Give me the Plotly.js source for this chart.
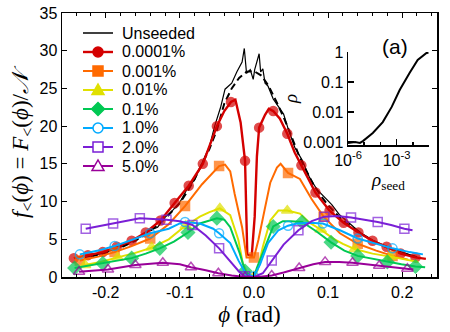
<!DOCTYPE html>
<html lang="en">

<head>
    <meta charset="UTF-8">
    <title>Seeded distributions</title>
    <script src="https://cdn.plot.ly/plotly-3.0.1.min.js" charset="utf-8"></script>
    <style>
        body { margin: 0; }
    </style>
</head>

<body>
    <div id="plot" style="width: 450px; height: 332px;"></div>

    <script>
        // f<(phi) curves, one set per seed density
        const unseededPhi = [-0.228, -0.21, -0.19, -0.17, -0.15, -0.14, -0.13, -0.12, -0.11, -0.1, -0.09, -0.08, -0.07, -0.06, -0.053, -0.045, -0.039, -0.03, -0.023, -0.016, -0.013, -0.01, -0.005, -0.001, 0.001, 0.007, 0.009, 0.012, 0.015, 0.019, 0.026, 0.033, 0.04, 0.046, 0.055, 0.065, 0.075, 0.085, 0.095, 0.105, 0.115, 0.125, 0.135, 0.145, 0.16, 0.175, 0.19, 0.205, 0.22];
        const unseededF = [2.6, 3.0, 3.6, 4.4, 5.5, 6.2, 6.6, 7.9, 8.8, 9.9, 11.7, 12.9, 15.1, 17.3, 20.0, 22.5, 24.9, 25.7, 27.2, 28.5, 30.3, 27.0, 27.5, 26.2, 27.5, 29.6, 27.2, 27.6, 25.7, 25.3, 23.6, 22.6, 21.6, 19.7, 17.2, 15.5, 13.2, 11.6, 10.6, 9.6, 8.3, 7.4, 6.6, 5.8, 4.9, 4.2, 3.6, 3.1, 2.7];

        const smoothPhi = [-0.22, -0.2, -0.18, -0.16, -0.14, -0.12, -0.1, -0.09, -0.08, -0.07, -0.06, -0.05, -0.04, -0.03, -0.02, -0.01, 0.0, 0.01, 0.02, 0.03, 0.04, 0.05, 0.06, 0.07, 0.08, 0.09, 0.1, 0.12, 0.14, 0.16, 0.18, 0.2, 0.22];
        const smoothF = [2.7, 3.2, 3.9, 4.8, 6.1, 7.7, 9.8, 11.3, 13.0, 15.0, 17.0, 19.5, 23.0, 25.0, 26.4, 27.2, 27.3, 26.7, 25.3, 23.3, 21.2, 18.8, 16.3, 14.2, 12.3, 10.8, 9.5, 7.5, 6.0, 4.8, 3.9, 3.2, 2.6];

        const p0001Phi = [-0.243, -0.224, -0.204, -0.185, -0.165, -0.146, -0.126, -0.107, -0.088, -0.069, -0.05, -0.04, -0.031, -0.025, -0.018, -0.012, -0.009, -0.003, 0.001, 0.004, 0.007, 0.015, 0.02, 0.026, 0.035, 0.045, 0.055, 0.064, 0.083, 0.102, 0.121, 0.141, 0.16, 0.179, 0.198, 0.218, 0.232];
        const p0001F = [2.5, 2.9, 3.3, 4.0, 4.8, 5.9, 7.5, 9.8, 12.1, 15.0, 20.0, 22.0, 23.2, 23.5, 20.5, 15.4, 3.0, 2.8, 8.0, 16.0, 19.8, 21.5, 22.3, 22.0, 21.0, 19.0, 16.5, 14.8, 11.2, 8.8, 7.2, 5.9, 4.8, 4.0, 3.1, 2.6, 2.4];
        const p0001Marks = [0, 1, 2, 3, 4, 5, 6, 7, 8, 9, 10, 12, 15, 20, 23, 25, 27, 28, 29, 30, 31, 32, 33, 34, 35];

        const p001Phi = [-0.235, -0.21, -0.188, -0.165, -0.14, -0.115, -0.093, -0.07, -0.047, -0.039, -0.032, -0.026, -0.016, -0.01, 0.0, 0.006, 0.015, 0.022, 0.031, 0.036, 0.046, 0.062, 0.078, 0.094, 0.116, 0.14, 0.165, 0.187, 0.208];
        const p001F = [2.2, 2.7, 3.3, 4.1, 5.1, 7.0, 9.4, 12.3, 14.7, 14.9, 14.0, 11.0, 6.6, 2.6, 2.6, 4.9, 9.2, 12.5, 14.5, 15.0, 13.8, 13.0, 10.3, 8.0, 5.8, 4.4, 3.5, 2.8, 2.3];
        const p001Marks = [0, 2, 4, 6, 8, 14, 20, 23, 25, 27];

        const p01Phi = [-0.228, -0.207, -0.184, -0.16, -0.138, -0.115, -0.1, -0.092, -0.073, -0.06, -0.046, -0.032, -0.021, -0.015, -0.008, 0.0, 0.005, 0.012, 0.022, 0.033, 0.045, 0.062, 0.075, 0.09, 0.107, 0.12, 0.136, 0.16, 0.184, 0.205, 0.222];
        const p01F = [1.6, 2.0, 2.6, 3.2, 3.9, 5.0, 6.2, 6.8, 8.0, 8.6, 9.1, 8.2, 4.9, 1.8, 0.3, 0.1, 0.9, 4.0, 7.5, 8.8, 8.8, 8.4, 7.2, 6.3, 5.1, 4.4, 3.7, 3.1, 2.7, 2.3, 2.0];
        const p01Marks = [0, 2, 4, 7, 10, 15, 20, 23, 26, 28];

        const p1Phi = [-0.242, -0.223, -0.204, -0.185, -0.165, -0.146, -0.127, -0.108, -0.089, -0.073, -0.05, -0.04, -0.032, -0.019, -0.012, -0.006, 0.0, 0.004, 0.015, 0.026, 0.039, 0.05, 0.065, 0.085, 0.104, 0.122, 0.14, 0.16, 0.18, 0.199, 0.218, 0.231];
        const p1F = [1.2, 1.5, 1.8, 2.1, 2.5, 3.1, 3.8, 4.7, 5.9, 7.1, 7.8, 7.6, 6.6, 3.1, 0.8, 0.2, 0.1, 1.2, 4.0, 6.7, 7.4, 7.4, 7.3, 6.0, 4.6, 3.5, 2.8, 2.4, 2.0, 1.7, 1.4, 1.3];
        const p1Marks = [0, 2, 4, 6, 8, 10, 14, 19, 22, 24, 26, 28, 30];

        const s1Phi = [-0.235, -0.21, -0.188, -0.165, -0.14, -0.115, -0.1, -0.093, -0.073, -0.055, -0.047, -0.032, -0.021, -0.01, 0.0, 0.008, 0.019, 0.033, 0.046, 0.058, 0.075, 0.093, 0.116, 0.14, 0.165, 0.187, 0.21, 0.228];
        const s1F = [3.0, 3.5, 4.1, 4.9, 5.8, 6.4, 7.1, 7.3, 7.1, 6.4, 5.8, 4.5, 2.2, 0.3, 0.1, 1.6, 4.5, 6.2, 6.8, 7.1, 7.2, 7.1, 6.2, 5.1, 4.4, 3.8, 3.3, 3.0];
        const s1Marks = [0, 2, 4, 7, 10, 14, 18, 21, 23, 25];

        const s2Phi = [-0.227, -0.19, -0.154, -0.118, -0.1, -0.083, -0.065, -0.047, -0.03, -0.02, -0.012, 0.0, 0.012, 0.024, 0.04, 0.06, 0.078, 0.095, 0.112, 0.131, 0.15, 0.167, 0.185, 0.203, 0.214];
        const s2F = [6.4, 7.1, 7.8, 7.6, 7.4, 6.9, 5.5, 3.8, 1.8, 0.7, 0.1, 0.0, 0.5, 2.2, 4.3, 6.2, 7.4, 8.0, 8.1, 7.9, 7.6, 7.3, 6.9, 6.4, 6.2];
        const s2Marks = [0, 1, 2, 3, 5, 7, 10, 13, 15, 17, 19, 21, 23];

        const s5Phi = [-0.236, -0.197, -0.16, -0.123, -0.1, -0.085, -0.065, -0.048, -0.03, -0.012, 0.005, 0.024, 0.04, 0.061, 0.08, 0.096, 0.115, 0.133, 0.15, 0.169, 0.188, 0.207, 0.215];
        const s5F = [0.7, 1.0, 1.6, 1.9, 1.7, 1.3, 0.9, 0.5, 0.2, 0.0, 0.0, 0.2, 0.6, 1.2, 1.7, 2.0, 2.0, 1.9, 1.7, 1.5, 1.3, 1.1, 1.0];
        const s5Marks = [0, 1, 2, 3, 5, 7, 9, 11, 13, 15, 17, 19, 21];

        // inset: rho versus rho_seed
        const rhoSeed = [1e-6, 2.7e-6, 5.5e-6, 8.3e-6, 3.4e-5, 1.4e-4, 5e-4, 1.55e-3, 6.3e-3, 2e-2, 7e-2, 9.3e-2];
        const rho = [9.3e-4, 1e-3, 9.3e-4, 1.07e-3, 2e-3, 4.6e-3, 1.48e-2, 5.4e-2, 0.2, 0.54, 0.93, 0.94];

        const legendNames = ['Unseeded', '0.0001%', '0.001%', '0.01%', '0.1%', '1.0%', '2.0%', '5.0%'];
        const xTickVals = [-0.2, -0.1, 0.0, 0.1, 0.2];
        const xTickText = ['-0.2', '-0.1', '0.0', '0.1', '0.2'];

        // styles per legend entry (Unseeded has no marker)
        const styles = [
            { color: '#000000', symbol: null, width: 1.2 },
            { color: '#d40000', symbol: 'circle', size: 9, width: 2.4 },
            { color: '#ff6a00', symbol: 'square', size: 9, width: 2 },
            { color: '#e0e000', symbol: 'triangle-up', size: 10, width: 2 },
            { color: '#00c853', symbol: 'diamond', size: 10, width: 2 },
            { color: '#00aaff', symbol: 'circle-open', size: 9, width: 2 },
            { color: '#7a1fd6', symbol: 'square-open', size: 9, width: 2 },
            { color: '#990099', symbol: 'triangle-up-open', size: 10, width: 2 }
        ];

        function sizes(n, marks, s) {
            const out = new Array(n).fill(0);
            marks.forEach(i => { out[i] = s; });
            return out;
        }

        function series(x, y, marks, st) {
            return {
                x: x, y: y, showlegend: false,
                mode: 'lines+markers',
                line: { color: st.color, width: st.width },
                marker: {
                    symbol: st.symbol, color: st.color,
                    size: sizes(x.length, marks, st.size),
                    line: { color: st.color, width: 1.5 }
                }
            };
        }

        const traces = [
            { x: smoothPhi, y: smoothF, mode: 'lines', showlegend: false,
              line: { color: '#000', width: 2, dash: '7px,4px' } },
            { x: unseededPhi, y: unseededF, mode: 'lines', showlegend: false,
              line: { color: '#000', width: styles[0].width } },
            series(p0001Phi, p0001F, p0001Marks, styles[1]),
            series(p001Phi, p001F, p001Marks, styles[2]),
            series(p01Phi, p01F, p01Marks, styles[3]),
            series(p1Phi, p1F, p1Marks, styles[4]),
            series(s1Phi, s1F, s1Marks, styles[5]),
            series(s2Phi, s2F, s2Marks, styles[6]),
            series(s5Phi, s5F, s5Marks, styles[7]),
            { x: rhoSeed, y: rho, xaxis: 'x2', yaxis: 'y2', mode: 'lines', showlegend: false,
              line: { color: '#000', width: 2 } }
        ];

        // legend drawn by hand so its rows can be packed as tightly as in the figure
        const L = 62, T = 13, W = 375, H = 264;
        const px = v => (v - L) / W;
        const py = v => (T + H - v) / H;
        const shapes = [];
        const annotations = [];
        legendNames.forEach((name, i) => {
            const st = styles[i];
            const cy = 33 + 19 * i;
            shapes.push({ type: 'line', xref: 'paper', yref: 'paper',
                x0: px(83), x1: px(113), y0: py(cy), y1: py(cy),
                line: { color: st.color, width: i === 0 ? 1.5 : st.width } });
            if (st.symbol) {
                const open = st.symbol.endsWith('open');
                const fill = open ? '#fff' : st.color;
                const cx = 98, r = 5;
                const base = { xref: 'paper', yref: 'paper', fillcolor: fill,
                    line: { color: st.color, width: 1.5 } };
                if (st.symbol.startsWith('circle')) {
                    shapes.push(Object.assign({ type: 'circle', x0: px(cx - r), x1: px(cx + r), y0: py(cy + r), y1: py(cy - r) }, base));
                } else if (st.symbol.startsWith('square')) {
                    shapes.push(Object.assign({ type: 'rect', x0: px(cx - r), x1: px(cx + r), y0: py(cy + r), y1: py(cy - r) }, base));
                } else if (st.symbol.startsWith('triangle')) {
                    const p = `M${px(cx - 6)},${py(cy + 4.5)} L${px(cx + 6)},${py(cy + 4.5)} L${px(cx)},${py(cy - 6)} Z`;
                    shapes.push(Object.assign({ type: 'path', path: p }, base));
                } else {
                    const p = `M${px(cx - 6.5)},${py(cy)} L${px(cx)},${py(cy - 6.5)} L${px(cx + 6.5)},${py(cy)} L${px(cx)},${py(cy + 6.5)} Z`;
                    shapes.push(Object.assign({ type: 'path', path: p }, base));
                }
            }
            annotations.push({ text: name, xref: 'paper', yref: 'paper', x: px(120), y: py(cy),
                xanchor: 'left', yanchor: 'middle', showarrow: false,
                font: { family: 'Liberation Sans, Arial, sans-serif', size: 16, color: '#000' } });
        });
        annotations.push({ text: '(a)', xref: 'paper', yref: 'paper', x: px(410), y: py(33),
            showarrow: false, font: { family: 'Liberation Sans, Arial, sans-serif', size: 21, color: '#000' } });

        const tickFont = { family: 'Liberation Sans, Arial, sans-serif', size: 16, color: '#000' };
        const serif = 'Liberation Serif, DejaVu Serif, serif';

        const layout = {
            width: 450, height: 332,
            margin: { l: L, r: 450 - L - W, t: T, b: 332 - T - H },
            paper_bgcolor: '#fff', plot_bgcolor: 'rgba(0,0,0,0)',
            font: tickFont,
            showlegend: false,
            xaxis: {
                range: [-0.259, 0.247], showgrid: false, zeroline: false,
                showline: true, linecolor: '#000', linewidth: 1.5, mirror: 'ticks',
                ticks: 'inside', ticklen: 5, tickcolor: '#000', tickwidth: 1,
                tickvals: xTickVals, ticktext: xTickText,
                minor: { dtick: 0.02, tick0: 0, ticks: 'inside', ticklen: 3, tickcolor: '#000' },
                title: { text: '<i>ϕ</i> (rad)', font: { family: serif, size: 23 }, standoff: 6 }
            },
            yaxis: {
                range: [0, 35], dtick: 5, showgrid: false, zeroline: false,
                showline: true, linecolor: '#000', linewidth: 1.5, mirror: 'ticks',
                ticks: 'inside', ticklen: 5, tickcolor: '#000',
                title: {
                    text: '<i>f</i><sub>&lt;</sub>(<i>ϕ</i>) = <i>F</i><sub>&lt;</sub>(<i>ϕ</i>)/<i>𝒩</i>',
                    font: { family: serif, size: 23 }, standoff: 4
                }
            },
            xaxis2: {
                type: 'log', range: [-6, -1], domain: [px(348), px(429)], anchor: 'y2',
                showgrid: false, zeroline: false, showline: true, linecolor: '#000', linewidth: 1.5,
                ticks: 'inside', ticklen: 6, tickcolor: '#000', tickwidth: 1.5,
                tickvals: [1e-6, 1e-3], ticktext: ['10<sup>-6</sup>', '10<sup>-3</sup>'],
                minor: { tickvals: [1e-5, 1e-4, 1e-2, 1e-1], ticks: 'inside', ticklen: 3, tickcolor: '#000' },
                tickfont: { size: 16 },
                title: { text: '<i>ρ</i><sub>seed</sub>', font: { family: serif, size: 19 }, standoff: 2 }
            },
            yaxis2: {
                type: 'log', range: [-3.1, 0], domain: [py(145), py(52)], anchor: 'x2',
                showgrid: false, zeroline: false, showline: true, linecolor: '#000', linewidth: 1.5,
                ticks: 'inside', ticklen: 6, tickcolor: '#000', tickwidth: 1.5,
                tickvals: [0.001, 0.01, 0.1, 1], ticktext: ['0.001', '0.01', '0.1', '1'],
                tickfont: { size: 16 },
                title: { text: '<i>ρ</i>', font: { family: serif, size: 19 }, standoff: 0 }
            },
            shapes: shapes,
            annotations: annotations
        };

        Plotly.newPlot('plot', traces, layout, { displayModeBar: false, staticPlot: true });
    </script>
</body>

</html>
